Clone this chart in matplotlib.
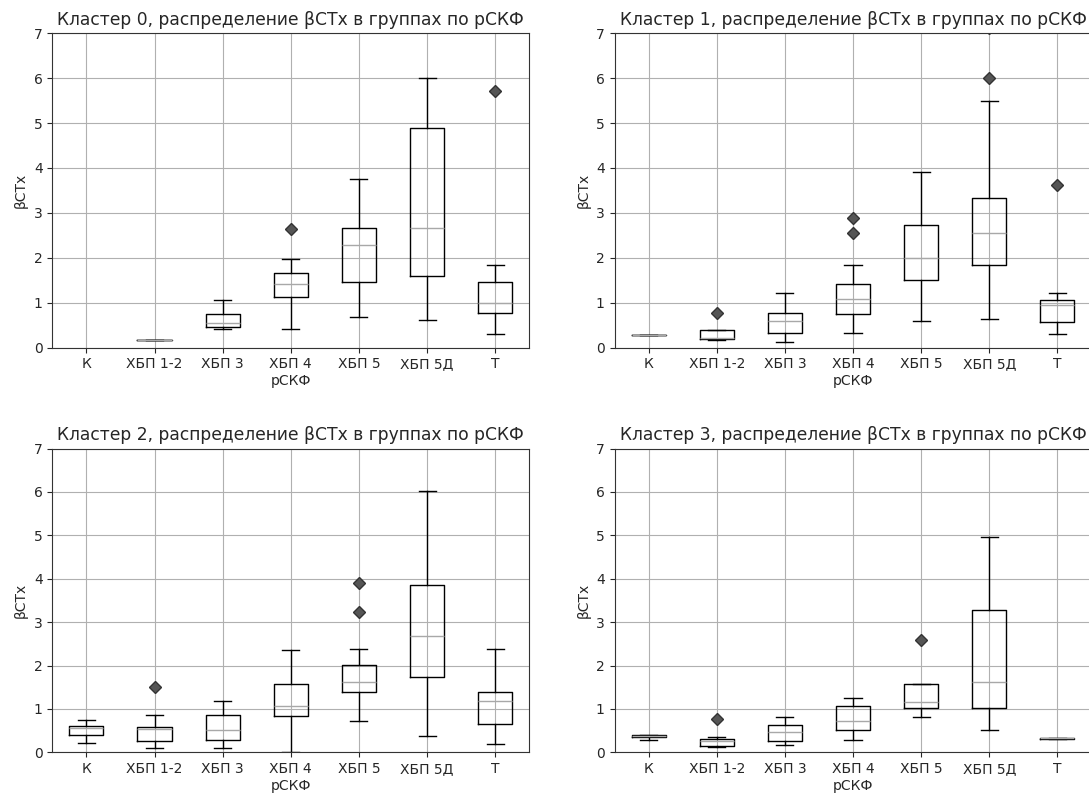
import matplotlib
matplotlib.use("Agg")
import matplotlib.pyplot as plt
import numpy as np

groups = ['К', 'ХБП 1-2', 'ХБП 3', 'ХБП 4', 'ХБП 5', 'ХБП 5Д', 'Т']

# cluster 0 (None = no data)
c0_low  = [None, 0.16, 0.42, 0.42, 0.68, 0.61, 0.29]
c0_q1   = [None, 0.16, 0.45, 1.13, 1.47, 1.60, 0.76]
c0_med  = [None, 0.16, 0.54, 1.41, 2.28, 2.67, 1.00]
c0_q3   = [None, 0.16, 0.74, 1.67, 2.67, 4.88, 1.47]
c0_high = [None, 0.16, 1.06, 1.97, 3.76, 6.01, 1.83]
c0_fl   = [[], [], [], [2.63], [], [], [5.72]]

# cluster 1
c1_low  = [0.28, 0.16, 0.13, 0.32, 0.60, 0.64, 0.29]
c1_q1   = [0.28, 0.19, 0.32, 0.74, 1.50, 1.83, 0.57]
c1_med  = [0.28, 0.22, 0.60, 1.09, 1.99, 2.56, 0.95]
c1_q3   = [0.28, 0.38, 0.77, 1.41, 2.72, 3.33, 1.06]
c1_high = [0.28, 0.38, 1.21, 1.83, 3.91, 5.49, 1.21]
c1_fl   = [[], [0.77], [], [2.56, 2.89], [], [6.0, 7.12], [3.62]]

# cluster 2
c2_low  = [0.22, 0.09, 0.09, 0.00, 0.71, 0.38, 0.19]
c2_q1   = [0.41, 0.26, 0.28, 0.84, 1.38, 1.74, 0.65]
c2_med  = [0.55, 0.53, 0.51, 1.07, 1.63, 2.67, 1.19]
c2_q3   = [0.61, 0.58, 0.87, 1.57, 2.02, 3.85, 1.40]
c2_high = [0.74, 0.87, 1.19, 2.36, 2.38, 6.02, 2.38]
c2_fl   = [[], [1.51], [], [], [3.24, 3.89], [], []]

# cluster 3
c3_low  = [0.29, 0.13, 0.16, 0.28, 0.81, 0.51, 0.31]
c3_q1   = [0.35, 0.15, 0.25, 0.51, 1.02, 1.02, 0.31]
c3_med  = [0.38, 0.25, 0.46, 0.71, 1.16, 1.63, 0.325]
c3_q3   = [0.41, 0.31, 0.64, 1.06, 1.57, 3.28, 0.34]
c3_high = [0.41, 0.35, 0.81, 1.25, 1.57, 4.95, 0.34]
c3_fl   = [[], [0.77], [], [], [2.59], [], []]

clusters = [
    (c0_low, c0_q1, c0_med, c0_q3, c0_high, c0_fl),
    (c1_low, c1_q1, c1_med, c1_q3, c1_high, c1_fl),
    (c2_low, c2_q1, c2_med, c2_q3, c2_high, c2_fl),
    (c3_low, c3_q1, c3_med, c3_q3, c3_high, c3_fl),
]

W, H = 1089, 795
fig = plt.figure(figsize=(W / 100, H / 100), dpi=100)

# axes pixel boxes: (left, top, right, bottom)
boxes_px = [
    (52.3, 33.3, 529.3, 347.5),
    (614.5, 33.3, 1091.5, 347.5),
    (52.3, 448.5, 529.3, 752.3),
    (614.5, 448.5, 1091.5, 752.3),
]

text_color = '#262626'
for k, (px, cl) in enumerate(zip(boxes_px, clusters)):
    l, t, r, b = px
    ax = fig.add_axes([l / W, 1 - b / H, (r - l) / W, (b - t) / H])
    low, q1, med, q3, high, fl = cl
    stats = []
    pos = []
    for i in range(len(groups)):
        if med[i] is None:
            continue
        stats.append(dict(whislo=low[i], q1=q1[i], med=med[i], q3=q3[i],
                          whishi=high[i], fliers=np.array(fl[i])))
        pos.append(i + 1)
    ax.bxp(stats, positions=pos, widths=0.5, showfliers=True,
           boxprops=dict(color='black', linewidth=1.0),
           whiskerprops=dict(color='black', linewidth=1.0),
           capprops=dict(color='black', linewidth=1.0),
           medianprops=dict(color='#a8a8a8', linewidth=1.0),
           flierprops=dict(marker='D', markerfacecolor='#555555',
                           markeredgecolor='#333333', markersize=6.5,
                           linestyle='none'))
    ax.set_xlim(0.5, 7.5)
    ax.set_ylim(0, 7)
    ax.set_xticks(range(1, len(groups) + 1))
    ax.set_xticklabels(groups, color=text_color)
    ax.set_yticks(range(0, 8))
    ax.tick_params(labelsize=10, colors=text_color)
    ax.grid(True, color='#b0b0b0', linewidth=0.8)
    ax.set_axisbelow(True)
    ax.set_title(f'Кластер {k}, распределение βСТх в группах по рСКФ',
                 fontsize=12.3, color=text_color)
    ax.set_xlabel('рСКФ', fontsize=10, color=text_color, labelpad=2)
    ax.set_ylabel('βСТх', fontsize=10, color=text_color)
    for s in ax.spines.values():
        s.set_color('#333333')

fig.savefig('out.png', dpi=100)
